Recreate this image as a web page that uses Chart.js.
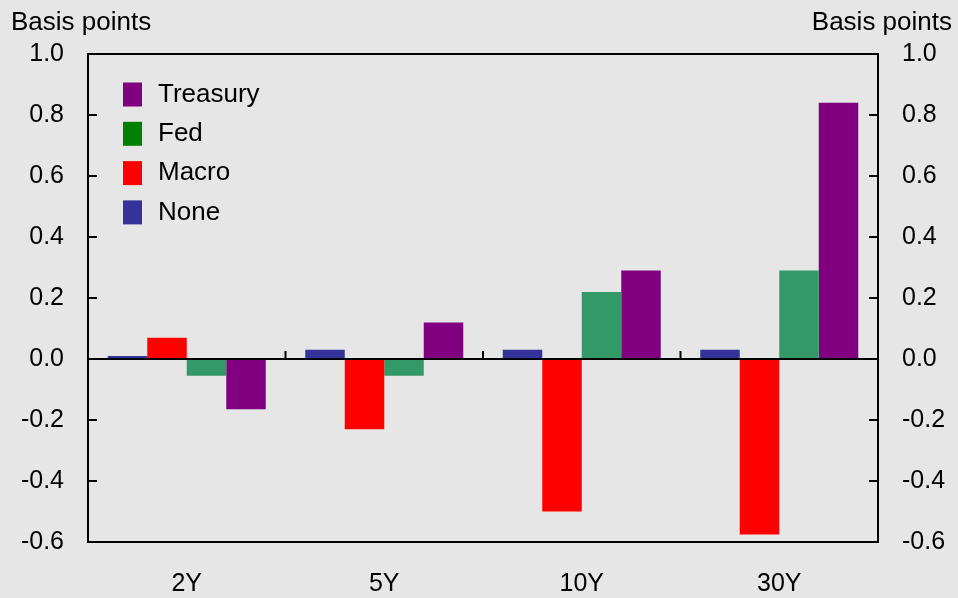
<!DOCTYPE html>
<html>
<head>
<meta charset="utf-8">
<script src="https://cdn.jsdelivr.net/npm/chart.js@4/dist/chart.umd.min.js"></script>
<style>
  html, body { margin: 0; padding: 0; background: #e6e6e6; }
  #wrap { width: 958px; height: 598px; }
</style>
</head>
<body>
<div id="wrap"><canvas id="chart" width="958" height="598"></canvas></div>
<script>
const maturities = ['2Y', '5Y', '10Y', '30Y'];
const noneVals = [0.01, 0.03, 0.03, 0.03];
const macroVals = [0.07, -0.23, -0.50, -0.575];
const fedVals = [-0.055, -0.055, 0.22, 0.29];
const treasuryVals = [-0.165, 0.12, 0.29, 0.84];

const FONT = "'Liberation Sans', Arial, sans-serif";

// legend drawn in the plot, reversed order, own swatch colours
const legendPlugin = {
  id: 'boxLegend',
  afterDraw(chart) {
    const ctx = chart.ctx;
    const items = [
      { label: 'Treasury', color: '#800080' },
      { label: 'Fed', color: '#008000' },
      { label: 'Macro', color: '#ff0000' },
      { label: 'None', color: '#333399' }
    ];
    ctx.save();
    ctx.font = '26px ' + FONT;
    ctx.textBaseline = 'middle';
    items.forEach((it, i) => {
      const cy = 94.5 + i * 39.3;
      ctx.fillStyle = it.color;
      ctx.fillRect(123, cy - 12, 19, 24);
      ctx.fillStyle = '#000';
      ctx.fillText(it.label, 158, cy);
    });
    ctx.restore();
  }
};

const framePlugin = {
  id: 'frame',
  afterDatasetsDraw(chart) {
    const { ctx, chartArea: a, scales } = chart;
    const y = scales.y, x = scales.x;
    ctx.save();
    ctx.strokeStyle = '#000';
    ctx.lineWidth = 2;
    ctx.strokeRect(a.left, a.top, a.right - a.left, a.bottom - a.top);

    // zero line
    const y0 = y.getPixelForValue(0);
    ctx.beginPath();
    ctx.moveTo(a.left, y0);
    ctx.lineTo(a.right, y0);
    ctx.stroke();

    // inward ticks on both sides
    y.ticks.forEach(t => {
      const py = y.getPixelForValue(t.value);
      ctx.beginPath();
      ctx.moveTo(a.left, py); ctx.lineTo(a.left + 9, py);
      ctx.moveTo(a.right, py); ctx.lineTo(a.right - 9, py);
      ctx.stroke();
    });

    // category separators on zero line
    for (let i = 1; i < maturities.length; i++) {
      const px = (x.getPixelForValue(i - 1) + x.getPixelForValue(i)) / 2;
      ctx.beginPath();
      ctx.moveTo(px, y0);
      ctx.lineTo(px, y0 - 8);
      ctx.stroke();
    }

    ctx.fillStyle = '#000';
    ctx.font = '26px ' + FONT;
    ctx.textBaseline = 'alphabetic';
    ctx.textAlign = 'left';
    ctx.fillText('Basis points', 11, 30);
    ctx.textAlign = 'right';
    ctx.fillText('Basis points', 952, 30);
    ctx.restore();
  }
};

const fmt = v => (Math.abs(v) < 1e-9 ? 0 : v).toFixed(1);

new Chart(document.getElementById('chart'), {
  type: 'bar',
  data: {
    labels: maturities,
    datasets: [
      { label: 'None', data: noneVals, backgroundColor: '#333399' },
      { label: 'Macro', data: macroVals, backgroundColor: '#ff0000' },
      { label: 'Fed', data: fedVals, backgroundColor: '#339966' },
      { label: 'Treasury', data: treasuryVals, backgroundColor: '#800080' }
    ]
  },
  options: {
    responsive: false,
    animation: false,
    layout: { padding: { top: 54, left: 0, right: 0, bottom: 0 } },
    datasets: { bar: { categoryPercentage: 0.8, barPercentage: 1.0 } },
    plugins: { legend: { display: false }, tooltip: { enabled: false } },
    scales: {
      x: {
        grid: { display: false, drawTicks: false },
        border: { display: false },
        ticks: { color: '#000', font: { family: FONT, size: 25 }, padding: 27 },
        afterFit(s) { s.height = 56; }
      },
      y: {
        position: 'left',
        min: -0.6, max: 1.0,
        grid: { display: false, drawTicks: false },
        border: { display: false },
        ticks: { stepSize: 0.2, color: '#000', font: { family: FONT, size: 25 }, padding: 24, callback: fmt },
        afterFit(s) { s.width = 88; }
      },
      y2: {
        position: 'right',
        min: -0.6, max: 1.0,
        grid: { display: false, drawTicks: false },
        border: { display: false },
        ticks: { stepSize: 0.2, color: '#000', font: { family: FONT, size: 25 }, padding: 24, callback: fmt },
        afterFit(s) { s.width = 80; }
      }
    }
  },
  plugins: [framePlugin, legendPlugin]
});
</script>
</body>
</html>
